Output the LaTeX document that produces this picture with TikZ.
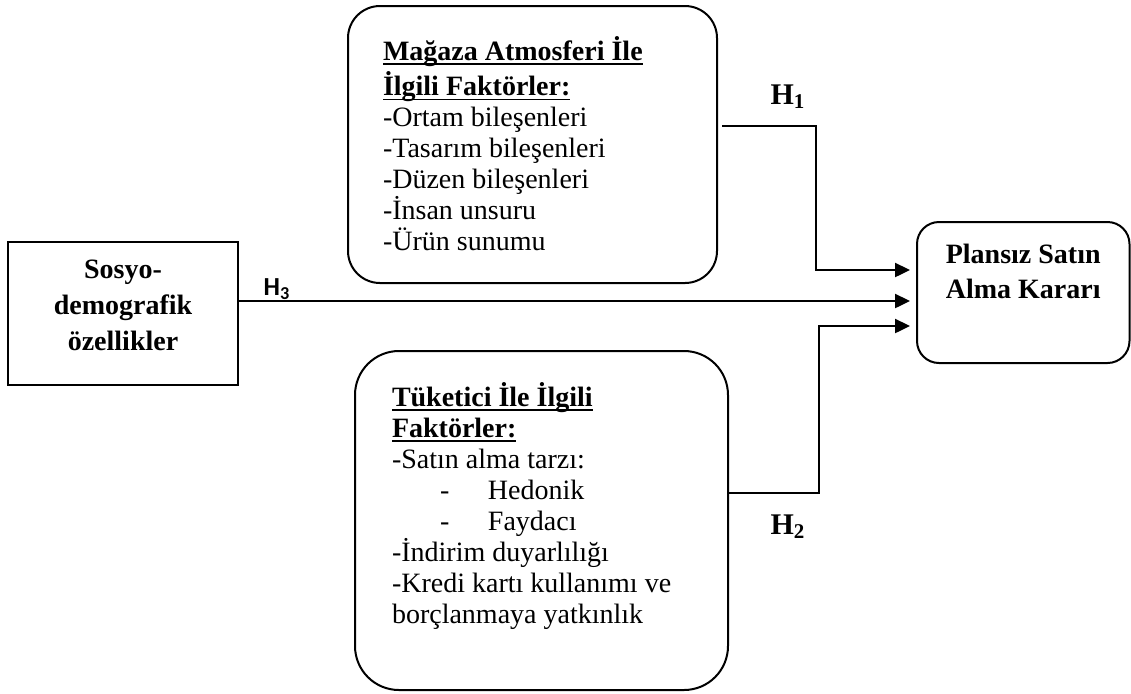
\documentclass[tikz,border=0pt]{standalone}
\usepackage{fontspec}
\setmainfont{Liberation Serif}
\newfontfamily\hsansfont{Carlito}
\usetikzlibrary{arrows.meta,calc}

\newcommand{\boxtext}[3]{\parbox[c][#2][t]{#1}{#3}}
\newcommand{\ulhead}[1]{\leavevmode\setbox0\hbox{\bfseries #1}\rlap{\rule[-2.2pt]{\wd0}{0.75pt}}\box0}

\begin{document}
\begin{tikzpicture}[x=0.5pt, y=-0.5pt,
				roundnode/.style={draw=black, line width=1pt, inner sep=0pt},
				squarenode/.style={draw=black, line width=1.1pt, inner sep=0pt},
				arrowline/.style={line width=1.2pt, -{Triangle[length=7.5pt,width=7pt]}},
				hlabel/.style={font=\fontsize{15}{17}\selectfont\bfseries},
				hsanslabel/.style={font=\hsansfont\fontsize{13}{15}\selectfont\bfseries},
				]
				\useasboundingbox (0,0) rectangle (1131,693);

				%Nodes
				\node[roundnode, rounded corners=16pt, minimum width=184.5pt, minimum height=138.5pt]	(atmos)	at (532.5,144.5)
					{\boxtext{149.5pt}{108.2pt}{\raggedright\fontsize{14}{15.5}\selectfont\strut\ulhead{Mağaza Atmosferi İle}\\
					\ulhead{İlgili Faktörler:}\\
					-Ortam bileşenleri\\
					-Tasarım bileşenleri\\
					-Düzen bileşenleri\\
					-İnsan unsuru\\
					-Ürün sunumu}};
				\node[roundnode, rounded corners=22pt, minimum width=186.5pt, minimum height=169.5pt]	(tuketici)	at (541.5,520.5)
					{\boxtext{149.5pt}{138.2pt}{\raggedright\fontsize{14}{15.5}\selectfont\strut\ulhead{Tüketici İle İlgili}\\
					\ulhead{Faktörler:}\\
					-Satın alma tarzı:\\
					\hspace*{24pt}\makebox[24pt][l]{-}Hedonik\\
					\hspace*{24pt}\makebox[24pt][l]{-}Faydacı\\
					-İndirim duyarlılığı\\
					-Kredi kartı kullanımı ve\\
					borçlanmaya yatkınlık}};
				\node[squarenode, minimum width=115pt, minimum height=71.5pt]	(socio)	at (123,313.5)
					{\boxtext{100pt}{60.7pt}{\centering\fontsize{14}{18}\selectfont\bfseries\strut Sosyo-\\ demografik\\ özellikler}};
				\node[roundnode, rounded corners=11pt, minimum width=106.25pt, minimum height=70.5pt]	(plansiz)	at (1023.25,292.5)
					{\boxtext{95pt}{54pt}{\centering\fontsize{14}{17.5}\selectfont\bfseries\strut Plansız Satın\\ Alma Kararı}};

				\node[hlabel]		(h1)	at (788,97)		{H\textsubscript{1}};
				\node[hlabel]		(h2)	at (788,527)	{H\textsubscript{2}};
				\node[hsanslabel]	(h3)	at (277,289)	{H\textsubscript{3}};

				%Lines
				\coordinate (h1from) at (722,126);
				\coordinate (h1to) at (910,270);
				\coordinate (h2from) at (728,493);
				\coordinate (h2to) at (910,326);
				\coordinate (h3to) at (910,301);
				\draw[arrowline]	(h1from) -| ($(h1from)!0.5!(h1to)$) |- (h1to);
				\draw[arrowline]	(h2from) -| ($(h2from)!0.5!(h2to)$) |- (h2to);
				\draw[arrowline]	(socio.east |- h3to) -- (h3to);
			\end{tikzpicture}
\end{document}
